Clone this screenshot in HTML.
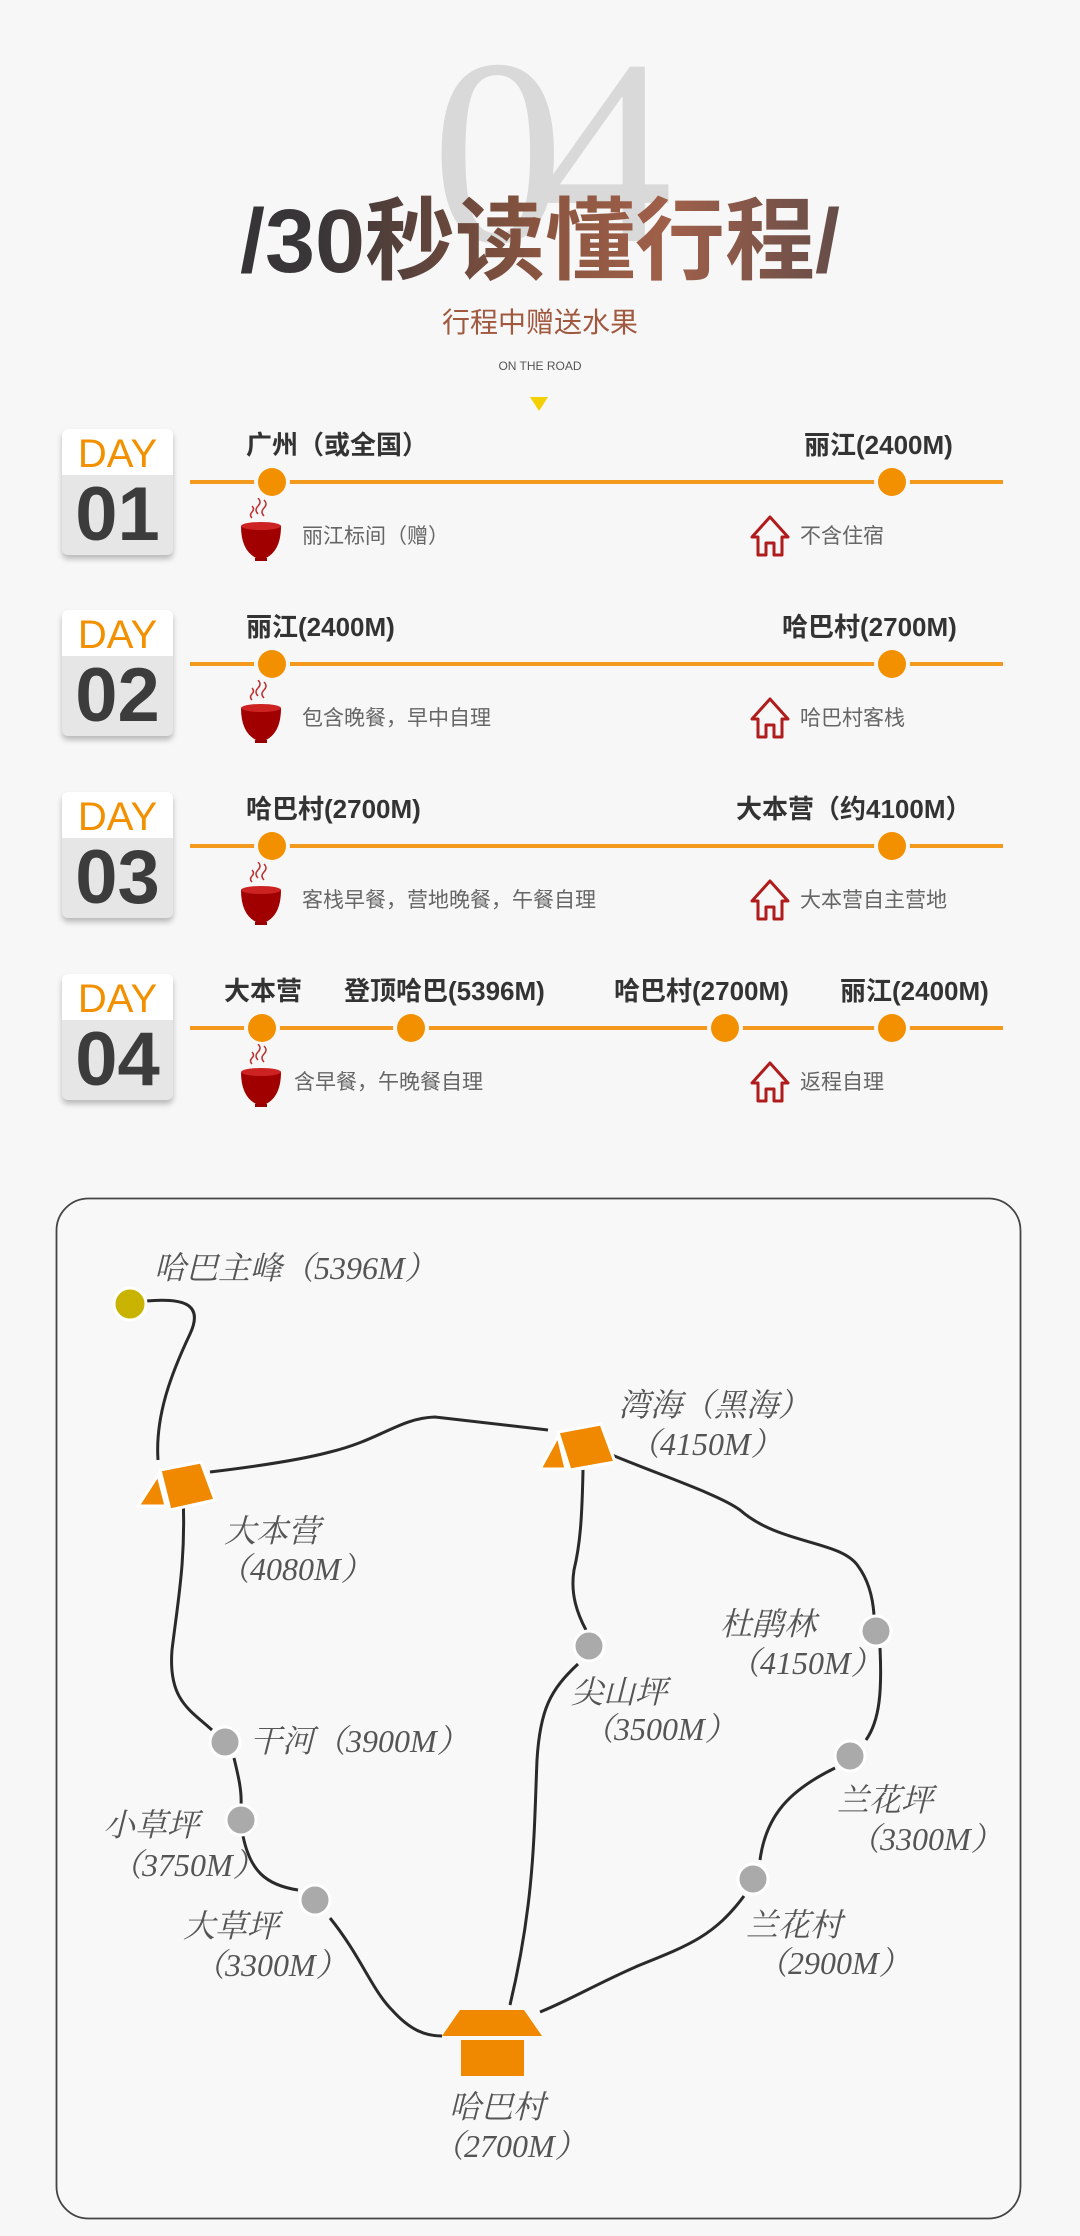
<!DOCTYPE html>
<html><head><meta charset="utf-8"><style>
body{margin:0;background:#f7f7f7;width:1080px;height:2236px;overflow:hidden;position:relative;font-family:"Liberation Sans","Noto Sans CJK SC",sans-serif;}
.a{position:absolute;white-space:nowrap}
.big04{left:0;width:1080px;text-align:center;top:20px;font-family:"Liberation Serif","Noto Serif CJK SC",serif;font-size:265px;color:#d9d9d9;line-height:265px;letter-spacing:-24px}
.title{left:0;width:1080px;text-align:center;top:192px;font-size:90px;font-weight:bold;line-height:100px;background:linear-gradient(90deg,#2a2d33 0%,#3a3638 30%,#8a5540 50%,#a0604a 62%,#4a4448 85%,#2a2d33 100%);-webkit-background-clip:text;background-clip:text;color:transparent}
.card{position:absolute;left:62px;width:111px;height:126px;border-radius:6px;background:#e6e6e6;box-shadow:0 4px 6px rgba(0,0,0,.25);overflow:hidden}
.card .t{height:46px;background:#fff;color:#f39000;font-size:40px;text-align:center;line-height:50px}
.card .n{color:#3c3c3c;font-size:76px;font-weight:bold;text-align:center;line-height:80px}
.line{position:absolute;left:190px;width:813px;height:4px;background:#f39a1e}
.dot{position:absolute;width:28px;height:28px;border-radius:50%;background:#f39000;box-shadow:0 0 0 4px #f7f7f7}
.lb{position:absolute;font-size:26px;font-weight:bold;color:#333;line-height:30px;white-space:nowrap}
.tx{position:absolute;font-size:21px;color:#666;line-height:30px;white-space:nowrap}
.m{position:absolute;font-family:"Liberation Serif","Noto Serif CJK SC",serif;font-style:italic;font-size:32px;color:#555;white-space:nowrap;line-height:36px}
</style></head><body>
<div class="a big04">04</div>
<div class="a title">/30秒读懂行程/</div>
<div class="a" style="left:0;width:1080px;text-align:center;top:305px;font-size:28px;color:#a0583f;line-height:36px">行程中赠送水果</div>
<div class="a" style="left:0;width:1080px;text-align:center;top:358px;font-size:12px;color:#555;line-height:16px">ON THE ROAD</div>
<svg class="a" style="left:528px;top:395px" width="22" height="18"><polygon points="2,2 20,2 11,16" fill="#f5d000"/></svg>

<svg width="0" height="0" style="position:absolute"><defs>
<g id="bowl"><path d="M-3,-26 q-4,-4 0,-8 q4,-4 0,-8 M3,-24 q-4,-4 0,-8 q4,-4 0,-8 M-9,-22 q-3,-3 0,-6 q3,-3 0,-6" stroke="#b33" stroke-width="1.5" fill="none"/><path d="M-20,-14 L20,-14 Q20,14 0,20 Q-20,14 -20,-14Z" fill="#a00000"/><ellipse cx="0" cy="-14" rx="20" ry="4" fill="#c22"/><rect x="-6" y="18" width="12" height="3" fill="#900"/></g>
<g id="house"><path d="M-18,0 L0,-20 L18,0 L12,0 L12,18 L4,18 L4,6 L-4,6 L-4,18 L-12,18 L-12,0Z" fill="none" stroke="#b01c1c" stroke-width="3" stroke-linejoin="round"/></g>
</defs></svg>

<!-- DAY 1 -->
<div class="card" style="top:429px"><div class="t">DAY</div><div class="n">01</div></div>
<div class="line" style="top:480px"></div>
<div class="dot" style="left:258px;top:468px"></div><div class="dot" style="left:878px;top:468px"></div>
<div class="lb" style="left:246px;top:430px">广州（或全国）</div>
<div class="lb" style="left:804px;top:430px">丽江(2400M)</div>
<svg class="a" style="left:231px;top:498px" width="60" height="70"><use href="#bowl" x="30" y="42"/></svg>
<div class="tx" style="left:302px;top:522px">丽江标间（赠）</div>
<svg class="a" style="left:745px;top:510px" width="50" height="50"><use href="#house" x="25" y="27"/></svg>
<div class="tx" style="left:800px;top:522px">不含住宿</div>

<!-- DAY 2 -->
<div class="card" style="top:610px"><div class="t">DAY</div><div class="n">02</div></div>
<div class="line" style="top:662px"></div>
<div class="dot" style="left:258px;top:650px"></div><div class="dot" style="left:878px;top:650px"></div>
<div class="lb" style="left:246px;top:612px">丽江(2400M)</div>
<div class="lb" style="left:782px;top:612px">哈巴村(2700M)</div>
<svg class="a" style="left:231px;top:680px" width="60" height="70"><use href="#bowl" x="30" y="42"/></svg>
<div class="tx" style="left:302px;top:704px">包含晚餐，早中自理</div>
<svg class="a" style="left:745px;top:692px" width="50" height="50"><use href="#house" x="25" y="27"/></svg>
<div class="tx" style="left:800px;top:704px">哈巴村客栈</div>

<!-- DAY 3 -->
<div class="card" style="top:792px"><div class="t">DAY</div><div class="n">03</div></div>
<div class="line" style="top:844px"></div>
<div class="dot" style="left:258px;top:832px"></div><div class="dot" style="left:878px;top:832px"></div>
<div class="lb" style="left:246px;top:794px">哈巴村(2700M)</div>
<div class="lb" style="left:736px;top:794px">大本营（约4100M）</div>
<svg class="a" style="left:231px;top:862px" width="60" height="70"><use href="#bowl" x="30" y="42"/></svg>
<div class="tx" style="left:302px;top:886px">客栈早餐，营地晚餐，午餐自理</div>
<svg class="a" style="left:745px;top:874px" width="50" height="50"><use href="#house" x="25" y="27"/></svg>
<div class="tx" style="left:800px;top:886px">大本营自主营地</div>

<!-- DAY 4 -->
<div class="card" style="top:974px"><div class="t">DAY</div><div class="n">04</div></div>
<div class="line" style="top:1026px"></div>
<div class="dot" style="left:248px;top:1014px"></div><div class="dot" style="left:397px;top:1014px"></div><div class="dot" style="left:711px;top:1014px"></div><div class="dot" style="left:878px;top:1014px"></div>
<div class="lb" style="left:224px;top:976px">大本营</div>
<div class="lb" style="left:344px;top:976px">登顶哈巴(5396M)</div>
<div class="lb" style="left:614px;top:976px">哈巴村(2700M)</div>
<div class="lb" style="left:840px;top:976px">丽江(2400M)</div>
<svg class="a" style="left:231px;top:1044px" width="60" height="70"><use href="#bowl" x="30" y="42"/></svg>
<div class="tx" style="left:294px;top:1068px">含早餐，午晚餐自理</div>
<svg class="a" style="left:745px;top:1056px" width="50" height="50"><use href="#house" x="25" y="27"/></svg>
<div class="tx" style="left:800px;top:1068px">返程自理</div>

<!-- MAP -->
<svg class="a" style="left:0;top:0" width="1080" height="2236">
<rect x="56.5" y="1198.5" width="964" height="1020" rx="32" fill="#f8f8f8" stroke="#444" stroke-width="1.8"/>
<g fill="none" stroke="#2a2a2a" stroke-width="3">
<path d="M146,1301 C180,1298 205,1302 190,1334 C172,1372 155,1415 158,1460"/>
<path d="M210,1472 C260,1466 300,1460 330,1452 C380,1440 400,1418 435,1417 L548,1430"/>
<path d="M612,1455 C660,1475 720,1495 740,1510 C780,1545 840,1540 858,1566 Q872,1585 874,1615"/>
<path d="M880,1648 C882,1690 880,1720 866,1740"/>
<path d="M835,1768 C790,1790 766,1815 760,1860"/>
<path d="M744,1896 C715,1935 690,1945 640,1965 C600,1982 570,2000 540,2012"/>
<path d="M583,1470 C582,1520 580,1545 574,1570 C570,1595 578,1615 586,1630"/>
<path d="M578,1664 C550,1690 540,1710 537,1760 C534,1830 535,1900 510,2005"/>
<path d="M183,1495 C186,1560 178,1600 172,1650 C168,1700 190,1710 212,1730"/>
<path d="M234,1758 C238,1775 242,1790 241,1806"/>
<path d="M243,1836 C250,1870 265,1885 298,1890"/>
<path d="M330,1918 C360,1955 372,1990 392,2010 C410,2030 425,2036 442,2036"/>
</g>
<circle cx="130" cy="1304" r="16" fill="#c8b400" stroke="#fff" stroke-width="3"/>
<g fill="#f08800" stroke="#fff" stroke-width="3">
<polygon points="138,1506 158,1475 166,1506"/>
<polygon points="160,1470 201,1462 215,1500 170,1510"/>
<polygon points="540,1469 558,1436 566,1469"/>
<polygon points="558,1432 601,1424 615,1462 570,1470"/>
</g>
<g fill="#f08800">
<polygon points="442,2036 460,2010 524,2010 542,2036"/>
<rect x="461" y="2040" width="63" height="36"/>
</g>
<g fill="#aaa" stroke="#fff" stroke-width="3">
<circle cx="589" cy="1646" r="15"/><circle cx="876" cy="1631" r="15"/><circle cx="850" cy="1756" r="15"/><circle cx="753" cy="1879" r="15"/>
<circle cx="225" cy="1742" r="15"/><circle cx="241" cy="1820" r="15"/><circle cx="315" cy="1900" r="15"/>
</g>
</svg>
<div class="m" style="left:154px;top:1250px">哈巴主峰（5396M）</div>
<div class="m" style="left:224px;top:1513px">大本营</div>
<div class="m" style="left:218px;top:1551px">（4080M）</div>
<div class="m" style="left:618px;top:1387px">湾海（黑海）</div>
<div class="m" style="left:628px;top:1426px">（4150M）</div>
<div class="m" style="left:571px;top:1674px">尖山坪</div>
<div class="m" style="left:582px;top:1711px">（3500M）</div>
<div class="m" style="left:720px;top:1606px">杜鹃林</div>
<div class="m" style="left:728px;top:1645px">（4150M）</div>
<div class="m" style="left:837px;top:1782px">兰花坪</div>
<div class="m" style="left:848px;top:1821px">（3300M）</div>
<div class="m" style="left:746px;top:1907px">兰花村</div>
<div class="m" style="left:756px;top:1945px">（2900M）</div>
<div class="m" style="left:250px;top:1723px">干河（3900M）</div>
<div class="m" style="left:103px;top:1807px">小草坪</div>
<div class="m" style="left:110px;top:1847px">（3750M）</div>
<div class="m" style="left:183px;top:1908px">大草坪</div>
<div class="m" style="left:193px;top:1947px">（3300M）</div>
<div class="m" style="left:449px;top:2089px">哈巴村</div>
<div class="m" style="left:432px;top:2128px">（2700M）</div>
</body></html>
